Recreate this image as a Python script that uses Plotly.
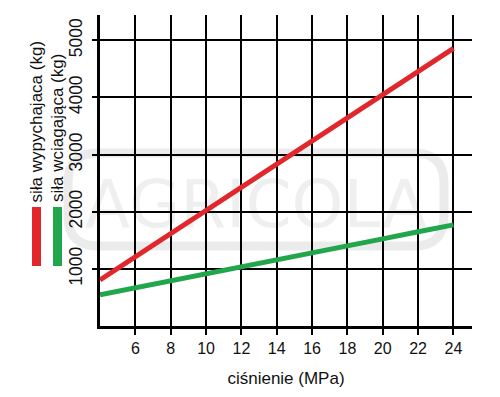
import plotly.graph_objects as go

pressure = [4, 6, 8, 10, 12, 14, 16, 18, 20, 22, 24]
push_force = [805, 1210, 1615, 2020, 2425, 2830, 3240, 3645, 4050, 4455, 4860]
pull_force = [545, 665, 790, 915, 1040, 1160, 1280, 1405, 1525, 1650, 1770]

x_ticks = [6, 8, 10, 12, 14, 16, 18, 20, 22, 24]
y_ticks = [1000, 2000, 3000, 4000, 5000]

push_label = "siła wypychajaca (kg)"
pull_label = "siła wciagająca (kg)"
x_title = "ciśnienie (MPa)"
watermark = "AGRICOLA"

RED = "#e1262c"
GREEN = "#22a64b"
FONT = "Liberation Sans, Arial, sans-serif"

fig = go.Figure()
fig.add_trace(go.Scatter(x=pressure, y=push_force, mode="lines",
                         line=dict(color=RED, width=5), name=push_label))
fig.add_trace(go.Scatter(x=pressure, y=pull_force, mode="lines",
                         line=dict(color=GREEN, width=5), name=pull_label))

# page has an 8px body margin; work in page pixel coordinates
OFF = 8
W, H = 500 - OFF, 397 - OFF
L, T = 100 - OFF, 15 - OFF
R = W - (472 - OFF)
B = H - (326 - OFF)
pw, ph = W - L - R, H - T - B


def px(xp):
    return (xp - OFF - L) / pw


def py(yp):
    return (H - B - (yp - OFF)) / ph


def rounded_rect(x0, y0, x1, y1, r):
    X0, X1 = px(x0), px(x1)
    Y0, Y1 = py(y1), py(y0)
    rx, ry = r / pw, r / ph
    return (f"M {X0+rx},{Y1} L {X1-rx},{Y1} Q {X1},{Y1} {X1},{Y1-ry} "
            f"L {X1},{Y0+ry} Q {X1},{Y0} {X1-rx},{Y0} L {X0+rx},{Y0} "
            f"Q {X0},{Y0} {X0},{Y0+ry} L {X0},{Y1-ry} Q {X0},{Y1} {X0+rx},{Y1} Z")


shapes = [
    dict(type="path", xref="paper", yref="paper", layer="below",
         path=rounded_rect(68, 153, 444, 246, 30),
         line=dict(color="#ebebeb", width=9), fillcolor="rgba(0,0,0,0)",
         label=dict(text=watermark, textposition="middle center",
                    font=dict(family="DejaVu Sans", size=66, color="#efefef"))),
    dict(type="rect", xref="paper", yref="paper",
         x0=px(32), x1=px(41), y0=py(266), y1=py(207),
         fillcolor=RED, line=dict(width=0)),
    dict(type="rect", xref="paper", yref="paper",
         x0=px(53), x1=px(62), y0=py(266), y1=py(207),
         fillcolor=GREEN, line=dict(width=0)),
]

annotations = [
    dict(text=push_label, xref="paper", yref="paper", x=px(36), y=py(121.5),
         textangle=-90, showarrow=False, xanchor="center", yanchor="middle",
         font=dict(family=FONT, size=17, color="#111111")),
    dict(text=pull_label, xref="paper", yref="paper", x=px(57), y=py(128),
         textangle=-90, showarrow=False, xanchor="center", yanchor="middle",
         font=dict(family=FONT, size=17, color="#111111")),
]

fig.update_layout(
    width=W, height=H,
    margin=dict(l=L, r=R, t=T, b=B, pad=0, autoexpand=False),
    paper_bgcolor="white", plot_bgcolor="white",
    showlegend=False,
    font=dict(family=FONT, color="#111111"),
    shapes=shapes, annotations=annotations,
    xaxis=dict(range=[4, 25.05], tickvals=x_ticks, ticktext=[str(v) for v in x_ticks],
               showgrid=True, gridcolor="black", gridwidth=1.5,
               showline=True, linecolor="black", linewidth=3,
               ticks="outside", ticklen=6, tickwidth=1.5, tickcolor="black",
               tickfont=dict(size=16), zeroline=False, automargin=False,
               title=dict(text=x_title, font=dict(size=17), standoff=16)),
    yaxis=dict(range=[0, 5444], tickvals=y_ticks, ticktext=[str(v) for v in y_ticks],
               showgrid=True, gridcolor="black", gridwidth=1.5,
               showline=True, linecolor="black", linewidth=3,
               ticks="outside", ticklen=5, tickwidth=1.5, tickcolor="black",
               tickangle=-90, tickfont=dict(size=17.5), zeroline=False,
               ticklabelstandoff=3, automargin=False),
)

fig.write_html("out.html")
